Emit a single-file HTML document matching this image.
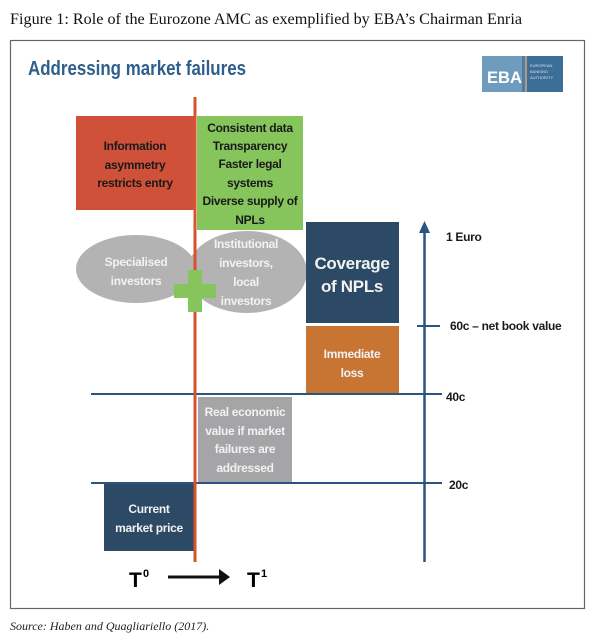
<!DOCTYPE html>
<html><head><meta charset="utf-8"><style>
html,body{margin:0;padding:0;background:#fff;width:600px;height:641px;overflow:hidden}
svg{display:block}
</style></head><body>
<svg width="600" height="641" viewBox="0 0 600 641" xmlns="http://www.w3.org/2000/svg" font-family="Liberation Sans, sans-serif">
<text x="10" y="24" font-family="Liberation Serif, serif" font-size="16" fill="#111" textLength="512" lengthAdjust="spacingAndGlyphs">Figure 1: Role of the Eurozone AMC as exemplified by EBA’s Chairman Enria</text>
<rect x="10.5" y="40.5" width="574" height="568" fill="#fff" stroke="#666" stroke-width="1.2"/>
<text x="28" y="75" font-size="20" font-weight="bold" fill="#2e5f8c" textLength="218" lengthAdjust="spacingAndGlyphs">Addressing market failures</text>
<rect x="482" y="56" width="81" height="36" fill="#4b7fa6"/>
<rect x="482" y="56" width="40" height="36" fill="#6f9bbd"/>
<rect x="527" y="56" width="36" height="36" fill="#3c6f98"/>
<line x1="526" y1="56" x2="526" y2="92" stroke="#d6a070" stroke-width="1.5"/>
<text x="487" y="83" font-size="17" font-weight="bold" fill="#fff" textLength="35" lengthAdjust="spacingAndGlyphs">EBA</text>
<text x="530" y="67" font-size="4" fill="#dde">EUROPEAN</text>
<text x="530" y="73" font-size="4" fill="#dde">BANKING</text>
<text x="530" y="79" font-size="4" fill="#dde">AUTHORITY</text>

<rect x="76" y="116" width="118" height="94" fill="#d0513a"/>
<rect x="197" y="116" width="106" height="114" fill="#86c45c"/>
<ellipse cx="136" cy="269" rx="60" ry="34" fill="#b3b3b3"/>
<ellipse cx="247" cy="272" rx="60" ry="41" fill="#b3b3b3"/>
<rect x="306" y="222" width="93" height="101" fill="#2c4a66"/>
<rect x="306" y="326" width="93" height="68" fill="#c87433"/>
<rect x="198" y="397" width="94" height="86" fill="#a5a5a7"/>
<rect x="104" y="483" width="90" height="68" fill="#2c4a66"/>

<line x1="91" y1="394" x2="442" y2="394" stroke="#2c5480" stroke-width="2"/>
<line x1="91" y1="483" x2="442" y2="483" stroke="#2c5480" stroke-width="2"/>
<line x1="417" y1="326" x2="440" y2="326" stroke="#2c5480" stroke-width="2"/>
<line x1="424.5" y1="228" x2="424.5" y2="562" stroke="#2c5480" stroke-width="2.5"/>
<path d="M419 233 L424.5 221 L430 233 Z" fill="#2c5480"/>
<line x1="195" y1="97" x2="195" y2="562" stroke="#d6532f" stroke-width="3"/>
<rect x="188" y="270" width="14" height="42" fill="#86c45c"/>
<rect x="174" y="284" width="42" height="14" fill="#86c45c"/>

<g font-weight="bold" font-size="12" letter-spacing="-0.3" text-anchor="middle" fill="#1a1a1a">
<text x="135" y="150">Information</text>
<text x="135" y="169">asymmetry</text>
<text x="135" y="187">restricts entry</text>
<text x="250" y="132">Consistent data</text>
<text x="250" y="150">Transparency</text>
<text x="250" y="168">Faster legal</text>
<text x="250" y="187">systems</text>
<text x="250" y="205">Diverse supply of</text>
<text x="250" y="224">NPLs</text>
</g>
<g font-weight="bold" font-size="12" letter-spacing="-0.3" text-anchor="middle" fill="#f2f2f2">
<text x="136" y="266">Specialised</text>
<text x="136" y="285">investors</text>
<text x="246" y="248">Institutional</text>
<text x="246" y="267">investors,</text>
<text x="246" y="286">local</text>
<text x="246" y="305">investors</text>
<text x="352" y="358">Immediate</text>
<text x="352" y="377">loss</text>
<text x="245" y="416">Real economic</text>
<text x="245" y="435">value if market</text>
<text x="245" y="453">failures are</text>
<text x="245" y="472">addressed</text>
<text x="149" y="513">Current</text>
<text x="149" y="532">market price</text>
<text x="352" y="269" font-size="17">Coverage</text>
<text x="352" y="292" font-size="17">of NPLs</text>
</g>
<g font-weight="bold" font-size="12" letter-spacing="-0.3" fill="#1a1a1a">
<text x="446" y="241">1 Euro</text>
<text x="450" y="330">60c – net book value</text>
<text x="446" y="401">40c</text>
<text x="449" y="489">20c</text>
</g>
<text x="129" y="587" font-size="21" font-weight="bold">T</text>
<text x="143" y="577" font-size="11" font-weight="bold">0</text>
<line x1="168" y1="577" x2="224" y2="577" stroke="#111" stroke-width="3"/>
<path d="M219 569 L230 577 L219 585 Z" fill="#111"/>
<text x="247" y="587" font-size="21" font-weight="bold">T</text>
<text x="261" y="577" font-size="11" font-weight="bold">1</text>
<text x="10" y="630" font-family="Liberation Serif, serif" font-style="italic" font-size="12" fill="#222">Source: Haben and Quagliariello (2017).</text>
</svg>
</body></html>
